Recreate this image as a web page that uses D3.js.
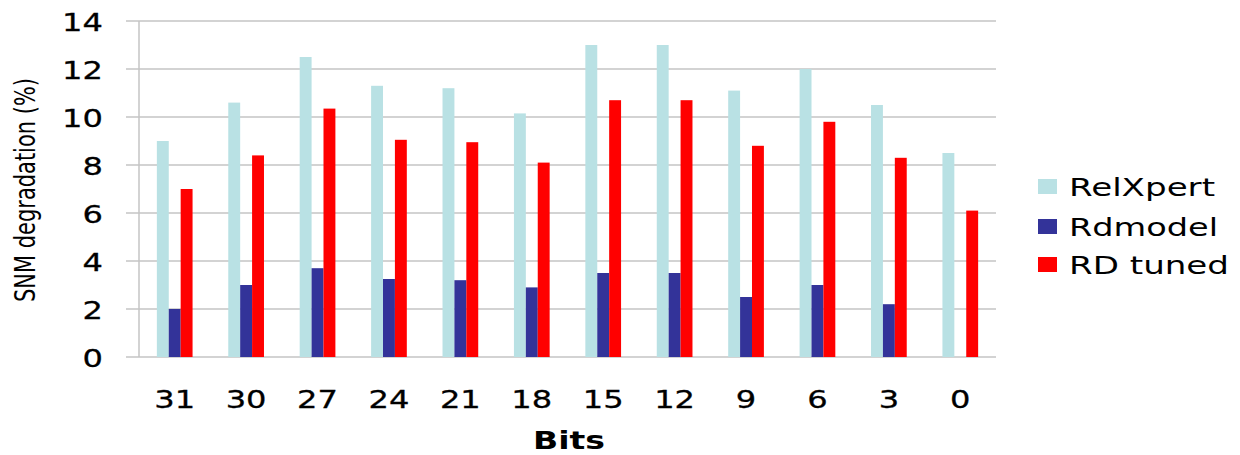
<!DOCTYPE html>
<html><head><meta charset="utf-8">
<script src="https://cdn.jsdelivr.net/npm/d3@7"></script>
<style>html,body{margin:0;padding:0;background:#fff;}svg{display:block;}</style>
</head><body>
<svg id="c" width="1240" height="455"></svg>
<script>
const categories = ["31","30","27","24","21","18","15","12","9","6","3","0"];
const relXpert = [9.0,10.6,12.5,11.3,11.2,10.15,13.0,13.0,11.1,12.0,10.5,8.5];
const rdModel  = [2.0,3.0,3.7,3.25,3.2,2.9,3.5,3.5,2.5,3.0,2.2,0];
const rdTuned  = [7.0,8.4,10.35,9.05,8.95,8.1,10.7,10.7,8.8,9.8,8.3,6.1];
const seriesNames = ["RelXpert","Rdmodel","RD tuned"];
const seriesColors = ["#b9e1e4","#333399","#ff0000"];
const yTicks = [0,2,4,6,8,10,12,14];

(function(){
const svg = d3.select("#c");
const pL = 139, pR = 996, pT = 21, pB = 357;
const font = "DejaVu Sans, Verdana, sans-serif";

const x = d3.scaleBand().domain(categories).range([pL,pR]).paddingInner(0.5).paddingOuter(0.25);
const xs = d3.scaleBand().domain(seriesNames).range([0,x.bandwidth()]);
const y = d3.scaleLinear().domain([0,14]).range([pB,pT]);

svg.append("g").selectAll("line").data(yTicks).join("line")
  .attr("x1",126).attr("x2",pR).attr("y1",d=>y(d)).attr("y2",d=>y(d))
  .attr("stroke","#c4c4c4").attr("stroke-width",1.5);
svg.append("line").attr("x1",pL).attr("x2",pL).attr("y1",pT).attr("y2",pB)
  .attr("stroke","#c4c4c4").attr("stroke-width",1.5);

svg.append("g").selectAll("text").data(yTicks).join("text")
  .attr("transform",d=>`translate(103,${y(d)+9.5}) scale(1.26,1)`)
  .attr("text-anchor","end").attr("font-family",font).attr("font-size",25.5).attr("fill","#000")
  .attr("stroke","#000").attr("stroke-width",0.3)
  .text(d=>d);

const data = categories.map((c,i)=>({c, vals:[relXpert[i],rdModel[i],rdTuned[i]]}));
const g = svg.append("g").selectAll("g").data(data).join("g")
  .attr("transform",d=>`translate(${x(d.c)},0)`);
g.selectAll("rect").data(d=>d.vals.map((v,j)=>({v,s:seriesNames[j],col:seriesColors[j]})))
  .join("rect")
  .attr("x",d=>xs(d.s)).attr("width",xs.bandwidth())
  .attr("y",d=>y(d.v)).attr("height",d=>y(0)-y(d.v))
  .attr("fill",d=>d.col);

svg.append("g").selectAll("text").data(categories).join("text")
  .attr("transform",d=>`translate(${x(d)+x.bandwidth()/2},408) scale(1.26,1)`)
  .attr("text-anchor","middle").attr("font-family",font).attr("font-size",25.5).attr("fill","#000")
  .attr("stroke","#000").attr("stroke-width",0.3)
  .text(d=>d);

svg.append("text").attr("x",533).attr("y",449).attr("font-family",font).attr("font-weight","bold")
  .attr("font-size",24).attr("fill","#000").attr("textLength",72).attr("lengthAdjust","spacingAndGlyphs")
  .text("Bits");

svg.append("text").attr("transform","translate(35,190) rotate(-90) scale(1,1.4)")
  .attr("text-anchor","middle").attr("font-family",font).attr("font-size",20).attr("fill","#000")
  .attr("textLength",224).attr("lengthAdjust","spacingAndGlyphs")
  .text("SNM degradation (%)");

const legendRows = [187,227,265];
const lg = svg.append("g").selectAll("g").data(seriesNames).join("g")
  .attr("transform",(d,i)=>`translate(1038,${legendRows[i]})`);
lg.append("rect").attr("x",0).attr("y",-8).attr("width",19).attr("height",15)
  .attr("fill",(d,i)=>seriesColors[i]);
const lw = [146,149,160];
lg.append("text").attr("x",31).attr("y",9).attr("font-family",font).attr("font-size",24).attr("fill","#000")
  .attr("textLength",(d,i)=>lw[i]).attr("lengthAdjust","spacingAndGlyphs")
  .text(d=>d);
})();
</script>
</body></html>
